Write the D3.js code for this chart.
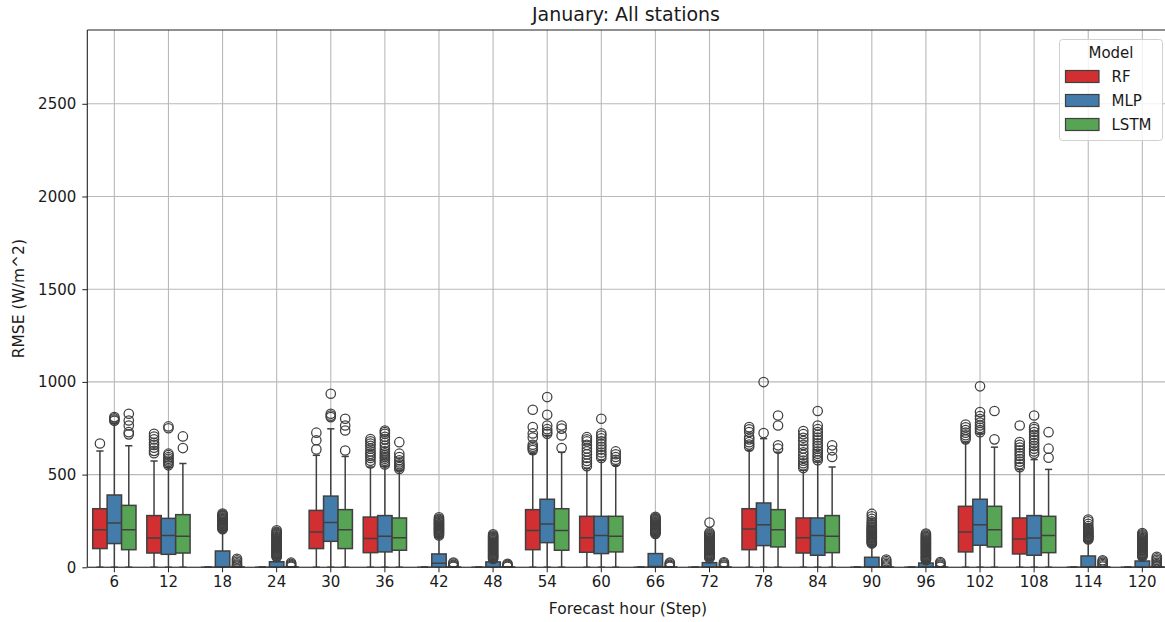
<!DOCTYPE html>
<html>
<head>
<meta charset="utf-8">
<script src="https://cdn.jsdelivr.net/npm/d3@7"></script>
<style>
  html, body { margin: 0; padding: 0; background: #fff; }
  svg { display: block; font-family: "DejaVu Sans", sans-serif; }
</style>
</head>
<body>
<svg id="chart" width="1165" height="622"></svg>
<script>
// Forecast steps (hours) on the x axis
const steps = [6, 12, 18, 24, 30, 36, 42, 48, 54, 60, 66, 72, 78, 84, 90, 96, 102, 108, 114, 120];
const models = ["RF", "MLP", "LSTM"];
const yTicks = [0, 500, 1000, 1500, 2000, 2500];

// Box summaries per step: [whisker low, Q1, median, Q3, whisker high]
const rfBoxes = [
  [0, 101, 203, 316, 627], [0, 77, 158, 279, 573], [0, 0, 0, 0, 0], [0, 0, 0, 0, 0],
  [0, 101, 190, 307, 604], [0, 79, 155, 271, 541], [0, 0, 0, 0, 0], [0, 0, 0, 0, 0],
  [0, 95, 198, 311, 613], [0, 81, 160, 275, 532], [0, 0, 0, 0, 0], [0, 0, 0, 0, 0],
  [0, 95, 207, 316, 631], [0, 77, 160, 266, 523], [0, 0, 0, 0, 0], [0, 0, 0, 0, 0],
  [0, 83, 190, 329, 675], [0, 72, 153, 266, 527], [0, 0, 0, 0, 0], [0, 0, 0, 0, 0]
];
const mlpBoxes = [
  [0, 128, 239, 390, 775], [0, 70, 172, 264, 540], [0, 0, 2, 88, 200], [0, 0, 0, 30, 50],
  [0, 140, 241, 384, 747], [0, 83, 167, 279, 545], [0, 0, 22, 72, 165], [0, 0, 0, 29, 40],
  [0, 133, 233, 367, 711], [0, 74, 172, 275, 577], [0, 0, 4, 74, 170], [0, 0, 0, 25, 42],
  [0, 117, 230, 347, 694], [0, 65, 172, 266, 568], [0, 0, 3, 54, 122], [0, 0, 0, 23, 33],
  [0, 119, 230, 367, 720], [0, 65, 158, 279, 581], [0, 0, 3, 61, 140], [0, 0, 0, 34, 52]
];
const lstmBoxes = [
  [0, 95, 203, 334, 656], [0, 77, 167, 284, 560], [0, 0, 0, 1, 2], [0, 0, 0, 1, 2],
  [0, 101, 203, 311, 598], [0, 92, 160, 266, 523], [0, 0, 0, 1, 2], [0, 0, 0, 1, 2],
  [0, 92, 198, 316, 621], [0, 83, 167, 275, 550], [0, 0, 0, 1, 2], [0, 0, 0, 1, 2],
  [0, 110, 203, 311, 621], [0, 79, 167, 279, 541], [0, 0, 0, 1, 2], [0, 0, 0, 1, 2],
  [0, 110, 203, 329, 648], [0, 79, 172, 275, 528], [0, 0, 0, 1, 2], [0, 0, 0, 1, 2]
];

// Outlying RMSE values per step
const rfFliers = [
  [668],
  [615, 628, 645, 660, 672, 690, 705, 720],
  [], [],
  [636, 685, 726],
  [560, 575, 590, 601, 612, 625, 640, 655, 668, 680, 692],
  [], [],
  [632, 642, 650, 661, 700, 722, 756, 850],
  [545, 560, 574, 590, 609, 625, 641, 660, 679, 690, 702],
  [], [],
  [650, 662, 675, 690, 701, 730, 744, 756],
  [535, 549, 561, 575, 590, 606, 620, 641, 660, 681, 699, 718, 735],
  [], [],
  [690, 701, 712, 726, 740, 755, 770],
  [540, 556, 570, 584, 601, 615, 631, 646, 660, 676, 765],
  [], []
];
const mlpFliers = [
  [790, 797, 803, 810],
  [550, 559, 568, 576, 585, 594, 605, 613, 750, 760],
  [205, 209, 213, 217, 222, 226, 230, 234, 239, 243, 247, 252, 256, 260, 264, 268, 273, 277, 281, 285, 290],
  [55, 59, 64, 68, 73, 77, 82, 86, 91, 95, 100, 104, 109, 113, 118, 122, 127, 131, 136, 140, 145, 149, 154, 158, 163, 167, 172, 176, 181, 186, 191, 200],
  [810, 818, 828, 936],
  [555, 564, 575, 586, 595, 604, 615, 626, 640, 655, 671, 690, 704, 720, 730, 738],
  [172, 178, 184, 188, 193, 197, 202, 206, 211, 215, 220, 224, 229, 233, 238, 242, 247, 251, 256, 262, 270],
  [45, 49, 54, 58, 63, 67, 72, 76, 81, 85, 90, 94, 99, 103, 108, 112, 117, 121, 126, 130, 135, 139, 144, 148, 153, 157, 162, 166, 171, 178],
  [720, 731, 745, 765, 823, 918],
  [590, 605, 619, 635, 650, 664, 680, 695, 711, 722, 801],
  [180, 184, 189, 193, 198, 202, 207, 211, 216, 220, 225, 229, 234, 238, 243, 247, 252, 256, 261, 266, 272],
  [49, 53, 58, 62, 67, 71, 76, 80, 85, 89, 94, 98, 103, 107, 112, 116, 121, 125, 130, 134, 139, 143, 148, 152, 157, 161, 166, 171, 176, 182, 188, 241],
  [724, 999],
  [577, 590, 600, 612, 626, 640, 655, 669, 685, 700, 714, 730, 745, 765, 843],
  [128, 132, 137, 141, 146, 150, 155, 159, 164, 168, 173, 177, 182, 186, 191, 195, 200, 204, 209, 214, 220, 226, 233, 240, 248, 262, 275, 288],
  [38, 42, 47, 51, 56, 60, 65, 69, 74, 78, 83, 87, 92, 96, 101, 105, 110, 114, 119, 123, 128, 132, 137, 141, 146, 150, 155, 160, 165, 170, 176, 182],
  [729, 740, 752, 765, 780, 800, 815, 837, 976],
  [613, 625, 640, 655, 670, 686, 700, 715, 730, 745, 756, 819],
  [150, 154, 159, 163, 168, 172, 177, 181, 186, 190, 195, 200, 206, 212, 222, 235, 248, 258],
  [58, 62, 67, 71, 76, 80, 85, 89, 94, 98, 103, 107, 112, 116, 121, 125, 130, 134, 139, 143, 148, 152, 157, 162, 167, 172, 178, 185]
];
const lstmFliers = [
  [717, 729, 765, 792, 828],
  [643, 706],
  [4, 9, 15, 22, 30, 38, 46],
  [3, 8, 13, 19, 25],
  [630, 738, 765, 801],
  [530, 540, 548, 556, 565, 577, 595, 613, 675],
  [3, 8, 14, 20, 26],
  [3, 8, 13, 19],
  [643, 711, 748, 765],
  [568, 580, 595, 610, 625],
  [3, 8, 14, 20, 25],
  [3, 9, 15, 21, 27],
  [640, 658, 765, 819],
  [595, 631, 658],
  [4, 10, 17, 25, 33, 42],
  [3, 9, 15, 22, 28],
  [690, 843],
  [591, 640, 729],
  [4, 10, 17, 24, 31, 38],
  [4, 10, 17, 24, 32, 40, 48, 57]
];

const boxesByModel = [rfBoxes, mlpBoxes, lstmBoxes];
const fliersByModel = [rfFliers, mlpFliers, lstmFliers];

// Styling
const palette = ["#d12f31", "#437bab", "#56a454"];
const lineColor = "#404040";
const gridColor = "#b9b9b9";

const svg = d3.select("#chart");
const plot = { left: 87.3, right: 1169.4, top: 30, bottom: 567.3 };

const x = d3.scaleBand().domain(steps).range([plot.left, plot.right]).padding(0);
const y = d3.scaleLinear().domain([0, 2898]).range([plot.bottom, plot.top]);

const slot = x.bandwidth() * 0.8 / models.length;

svg.append("defs").append("clipPath").attr("id", "plotClip")
  .append("rect")
  .attr("x", plot.left).attr("y", plot.top)
  .attr("width", plot.right - plot.left).attr("height", plot.bottom - plot.top);

// Grid
const grid = svg.append("g");
grid.selectAll("line.gx").data(steps).join("line")
  .attr("x1", d => x(d) + x.bandwidth() / 2).attr("x2", d => x(d) + x.bandwidth() / 2)
  .attr("y1", plot.top).attr("y2", plot.bottom)
  .attr("stroke", gridColor).attr("stroke-width", 1.1);
grid.selectAll("line.gy").data(yTicks).join("line")
  .attr("x1", plot.left).attr("x2", plot.right)
  .attr("y1", d => y(d)).attr("y2", d => y(d))
  .attr("stroke", gridColor).attr("stroke-width", 1.1);

const marks = svg.append("g").attr("clip-path", "url(#plotClip)");

models.forEach((m, j) => {
  const g = marks.append("g").attr("class", "model-" + m);
  steps.forEach((s, i) => {
    const cx = x(s) + x.bandwidth() / 2 + (j - 1) * slot;
    const [lo, q1, med, q3, hi] = boxesByModel[j][i];
    const x0 = cx - slot / 2, x1 = cx + slot / 2;
    // whiskers
    g.append("line").attr("x1", cx).attr("x2", cx).attr("y1", y(q3)).attr("y2", y(hi))
      .attr("stroke", lineColor).attr("stroke-width", 1.5);
    g.append("line").attr("x1", cx).attr("x2", cx).attr("y1", y(q1)).attr("y2", y(lo))
      .attr("stroke", lineColor).attr("stroke-width", 1.5);
    // caps
    [lo, hi].forEach(v => {
      g.append("line").attr("x1", cx - slot / 4).attr("x2", cx + slot / 4)
        .attr("y1", y(v)).attr("y2", y(v))
        .attr("stroke", lineColor).attr("stroke-width", 1.5);
    });
    // box
    g.append("rect")
      .attr("x", x0).attr("width", x1 - x0)
      .attr("y", y(q3)).attr("height", Math.max(0, y(q1) - y(q3)))
      .attr("fill", palette[j]).attr("stroke", lineColor).attr("stroke-width", 1.5);
    // median
    g.append("line").attr("x1", x0).attr("x2", x1).attr("y1", y(med)).attr("y2", y(med))
      .attr("stroke", lineColor).attr("stroke-width", 1.5);
    // outliers
    g.selectAll(null).data(fliersByModel[j][i]).join("circle")
      .attr("cx", cx).attr("cy", d => y(d)).attr("r", 4.7)
      .attr("fill", "none").attr("stroke", lineColor).attr("stroke-width", 1.25);
  });
});

// Axes
const xAxis = svg.append("g").attr("transform", `translate(0,${plot.bottom})`)
  .call(d3.axisBottom(x).tickSize(5).tickPadding(4));
const yAxis = svg.append("g").attr("transform", `translate(${plot.left},0)`)
  .call(d3.axisLeft(y).tickValues(yTicks).tickFormat(d3.format("d")).tickSize(5).tickPadding(6));
[xAxis, yAxis].forEach(a => {
  a.select(".domain").remove();
  a.selectAll(".tick line").attr("stroke", "#222").attr("stroke-width", 1);
  a.selectAll(".tick text").attr("fill", "#1a1a1a").style("font-size", "15px")
    .style("font-family", "DejaVu Sans");
});

// Spines
const spines = svg.append("g").attr("stroke", "#222").attr("stroke-width", 1.1);
spines.append("line").attr("x1", plot.left).attr("x2", plot.left).attr("y1", plot.top).attr("y2", plot.bottom);
spines.append("line").attr("x1", plot.left).attr("x2", plot.right).attr("y1", plot.bottom).attr("y2", plot.bottom);
spines.append("line").attr("x1", plot.left).attr("x2", plot.right).attr("y1", plot.top).attr("y2", plot.top);
spines.append("line").attr("x1", plot.right).attr("x2", plot.right).attr("y1", plot.top).attr("y2", plot.bottom);

// Titles
svg.append("text").attr("x", 626).attr("y", 21)
  .attr("text-anchor", "middle").style("font-size", "19px").attr("fill", "#1a1a1a")
  .text("January: All stations");
svg.append("text").attr("x", 628).attr("y", 614)
  .attr("text-anchor", "middle").style("font-size", "15.5px").attr("fill", "#1a1a1a")
  .text("Forecast hour (Step)");
svg.append("text").attr("transform", `translate(24,${(plot.top + plot.bottom) / 2}) rotate(-90)`)
  .attr("text-anchor", "middle").style("font-size", "15.5px").attr("fill", "#1a1a1a")
  .text("RMSE (W/m^2)");

// Legend
const legend = svg.append("g");
legend.append("rect").attr("x", 1059.5).attr("y", 39.5).attr("width", 103).attr("height", 101)
  .attr("rx", 3).attr("fill", "#fff").attr("fill-opacity", 0.8)
  .attr("stroke", "#d0d0d0").attr("stroke-width", 1);
legend.append("text").attr("x", 1111).attr("y", 58).attr("text-anchor", "middle")
  .style("font-size", "15px").attr("fill", "#1a1a1a").text("Model");
models.forEach((m, j) => {
  const yy = 70.5 + j * 24;
  legend.append("rect").attr("x", 1065.5).attr("y", yy).attr("width", 33.5).attr("height", 12)
    .attr("fill", palette[j]).attr("stroke", lineColor).attr("stroke-width", 1.2);
  legend.append("text").attr("x", 1111.5).attr("y", yy + 11.5)
    .style("font-size", "15px").attr("fill", "#1a1a1a").text(m);
});
</script>
</body>
</html>
